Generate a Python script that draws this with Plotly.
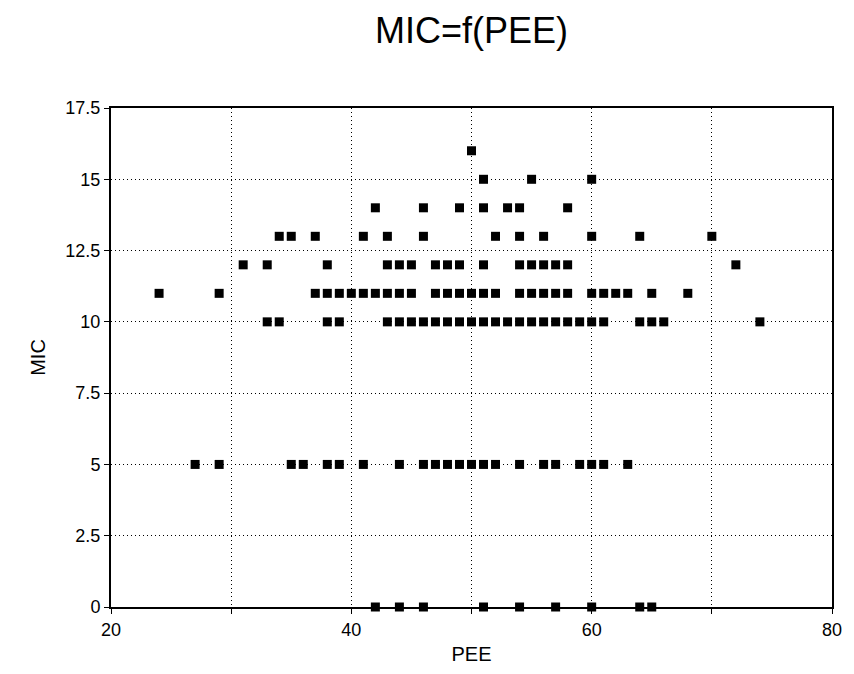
import plotly.graph_objects as go

pee_mic_16 = [50]
pee_mic_15 = [51, 55, 60]
pee_mic_14 = [42, 46, 49, 51, 53, 54, 58]
pee_mic_13 = [34, 35, 37, 41, 43, 46, 52, 54, 56, 60, 64, 70]
pee_mic_12 = [31, 33, 38, 43, 44, 45, 47, 48, 49, 51, 54, 55, 56, 57, 58, 72]
pee_mic_11 = [24, 29, 37, 38, 39, 40, 41, 42, 43, 44, 45, 47, 48, 49, 50, 51, 52,
              54, 55, 56, 57, 58, 60, 61, 62, 63, 65, 68]
pee_mic_10 = [33, 34, 38, 39, 43, 44, 45, 46, 47, 48, 49, 50, 51, 52, 53, 54, 55,
              56, 57, 58, 59, 60, 61, 64, 65, 66, 74]
pee_mic_5 = [27, 29, 35, 36, 38, 39, 41, 44, 46, 47, 48, 49, 50, 51, 52, 54, 56,
             57, 59, 60, 61, 63]
pee_mic_0 = [42, 44, 46, 51, 54, 57, 60, 64, 65]

rows = [(16, pee_mic_16), (15, pee_mic_15), (14, pee_mic_14), (13, pee_mic_13),
        (12, pee_mic_12), (11, pee_mic_11), (10, pee_mic_10), (5, pee_mic_5),
        (0, pee_mic_0)]

pee = []
mic = []
for m, xs in rows:
    for x in xs:
        pee.append(x)
        mic.append(m)

x_tickvals = [20, 30, 40, 50, 60, 70, 80]
x_ticktext = ["20", "", "40", "", "60", "", "80"]
y_tickvals = [0, 2.5, 5, 7.5, 10, 12.5, 15, 17.5]
y_ticktext = ["0", "2.5", "5", "7.5", "10", "12.5", "15", "17.5"]

FONT = "Liberation Sans, Arial, sans-serif"
W, H = 854, 674

fig = go.Figure()
fig.add_trace(go.Scatter(
    x=pee, y=mic, mode="markers",
    marker=dict(symbol="square", size=9, color="black", line=dict(width=0)),
    cliponaxis=False, showlegend=False,
))

fig.update_layout(
    width=W, height=H,
    paper_bgcolor="white", plot_bgcolor="white",
    margin=dict(l=111, r=14, t=108, b=65),
    font=dict(family=FONT, color="black", size=18),
    title=dict(text="MIC=f(PEE)", x=0.5, xref="paper", xanchor="center",
               y=1 - 30 / H, yref="container", yanchor="middle",
               font=dict(size=36, family=FONT, color="black")),
)

fig.update_xaxes(
    range=[20, 80], tickvals=x_tickvals, ticktext=x_ticktext,
    showline=True, linecolor="black", linewidth=2, mirror=True,
    ticks="outside", ticklen=5, tickcolor="black", tickwidth=1,
    showgrid=True, gridcolor="black", gridwidth=1, griddash="1px,3px",
    zeroline=False, automargin=True,
    tickfont=dict(size=18, family=FONT),
    title=dict(text="PEE", font=dict(size=20, family=FONT), standoff=8),
)
fig.update_yaxes(
    range=[0, 17.5], tickvals=y_tickvals, ticktext=y_ticktext,
    showline=True, linecolor="black", linewidth=2, mirror=True,
    ticks="outside", ticklen=5, tickcolor="black", tickwidth=1,
    showgrid=True, gridcolor="black", gridwidth=1, griddash="1px,3px",
    zeroline=False, automargin=True,
    tickfont=dict(size=18, family=FONT),
    title=dict(text="MIC", font=dict(size=20, family=FONT), standoff=14),
)

# remove the default page margin so the figure fills the window exactly
fig.write_html(
    "out.html",
    config={"displayModeBar": False},
    post_script="document.body.style.margin='0';document.body.style.overflow='hidden';",
)
